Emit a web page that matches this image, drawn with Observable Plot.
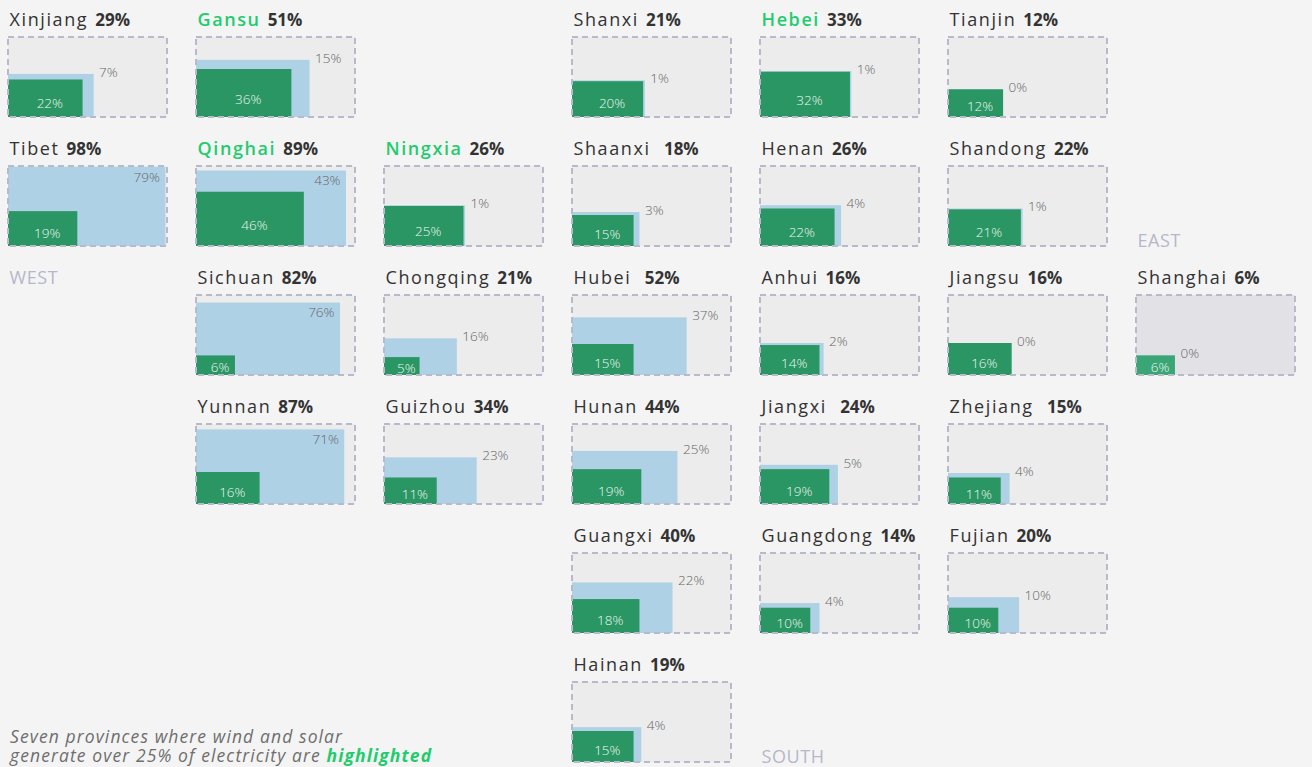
<!DOCTYPE html>
<html><head><meta charset="utf-8">
<script src="https://cdn.jsdelivr.net/npm/d3@7"></script>
<script src="https://cdn.jsdelivr.net/npm/@observablehq/plot@0.6"></script>
<style>
html,body{margin:0;padding:0;background:#f4f4f4;}
#wrap{position:relative;width:1312px;height:767px;overflow:hidden;}
.cap{position:absolute;left:10px;font-family:"Open Sans",sans-serif;font-style:italic;font-size:17.5px;line-height:18px;letter-spacing:1.1px;color:#6e6e6e;white-space:nowrap;}
.cap b{color:#22cc6e;font-weight:700;}
</style></head><body>
<div id="wrap"><div id="chart"></div>
<div class="cap" style="top:727px">Seven provinces where wind and solar</div>
<div class="cap" style="top:746px">generate over 25% of electricity are <b>highlighted</b></div></div>
<script>
const provinces = ["Xinjiang","Gansu","Shanxi","Hebei","Tianjin",
  "Tibet","Qinghai","Ningxia","Shaanxi ","Henan","Shandong",
  "Sichuan","Chongqing","Hubei ","Anhui","Jiangsu","Shanghai",
  "Yunnan","Guizhou","Hunan","Jiangxi ","Zhejiang ",
  "Guangxi","Guangdong","Fujian","Hainan"];
const gridCol = [0,1,3,4,5, 0,1,2,3,4,5, 1,2,3,4,5,6, 1,2,3,4,5, 3,4,5, 3];
const gridRow = [0,0,0,0,0, 1,1,1,1,1,1, 2,2,2,2,2,2, 3,3,3,3,3, 4,4,4, 5];
const totalShare = [29,51,21,33,12, 98,89,26,18,26,22, 82,21,52,16,16,6, 87,34,44,24,15, 40,14,20, 19];
const windSolarShare = [22,36,20,32,12, 19,46,25,15,22,21, 6,5,15,14,16,6, 16,11,19,19,11, 18,10,10, 15];
const otherShare = [7,15,1,1,0, 79,43,1,3,4,1, 76,16,37,2,0,0, 71,23,25,5,4, 22,4,10, 4];
const highlighted = ["Gansu","Hebei","Qinghai","Ningxia"];
const regionNames = ["WEST","EAST","SOUTH"];
const regionCol = [0,6,4];
const regionRow = [2,1,5];

const tiles = provinces.map((name, i) => ({
  name, col: gridCol[i], row: gridRow[i],
  total: totalShare[i], ws: windSolarShare[i], other: otherShare[i],
  hi: highlighted.includes(name.trim())
}));
const regions = regionNames.map((name, i) => ({name, col: regionCol[i], row: regionRow[i]}));
const sq = v => Math.sqrt(v / 100);
const F = "Open Sans";
const green = "#2a9663", blue = "#afd1e6";
const isShanghai = d => d.name.trim() === "Shanghai";

const chart = Plot.plot({
  width: 1312, height: 767,
  marginLeft: 8, marginRight: 17, marginTop: 3, marginBottom: 5,
  fx: {domain: d3.range(7), paddingInner: 29/188, paddingOuter: 0, round: false, axis: null},
  fy: {domain: d3.range(6), paddingInner: 15/129, paddingOuter: 0, round: false, axis: null},
  x: {domain: [0, 1], axis: null},
  y: {domain: [0, 114/80], axis: null},
  color: {type: "identity"},
  style: {fontFamily: F, background: "#f4f4f4"},
  marks: [
    Plot.rect(tiles, {fx: "col", fy: "row", x1: 0, x2: 1, y1: 0, y2: 1,
      fill: d => isShanghai(d) ? "#e2e1e6" : "#ececec"}),
    Plot.rect(tiles, {fx: "col", fy: "row", x1: 0, x2: d => sq(d.total), y1: 0, y2: d => sq(d.total), fill: blue}),
    Plot.rect(tiles, {fx: "col", fy: "row", x1: 0, x2: d => sq(d.ws), y1: 0, y2: d => sq(d.ws),
      fill: d => isShanghai(d) ? "#3aa676" : green}),
    Plot.rect(tiles, {fx: "col", fy: "row", x1: 0, x2: 1, y1: 0, y2: 1,
      fill: "none", stroke: "#b8b9ca", strokeWidth: 2, strokeDasharray: "6,4"}),
    Plot.text(tiles, {fx: "col", fy: "row", x: d => sq(d.ws) / 2, y: d => 0.38 * sq(d.ws),
      text: d => d.ws + "%", dx: 4, lineAnchor: "middle", fontSize: 13.5, fontWeight: 300, fill: "#eef7f1"}),
    Plot.text(tiles.filter(d => d.total < 70), {fx: "col", fy: "row", x: d => sq(d.total), y: d => sq(d.total),
      text: d => d.other + "%", dx: 5, dy: -2, textAnchor: "start", lineAnchor: "middle", fontSize: 13.5, fontWeight: 300, fill: "#666"}),
    Plot.text(tiles.filter(d => d.total >= 70), {fx: "col", fy: "row", x: d => sq(d.total), y: d => sq(d.total),
      text: d => d.other + "%", dx: -6, dy: 10, textAnchor: "end", lineAnchor: "middle", fontSize: 13.5, fontWeight: 300, fill: "#666"}),
    Plot.text(tiles.filter(d => !d.hi), {fx: "col", fy: "row", x: 0, y: 1, text: "name",
      dx: 1, dy: -11.5, textAnchor: "start", lineAnchor: "bottom", fontSize: 18, fill: "#333"}),
    Plot.text(tiles.filter(d => d.hi), {fx: "col", fy: "row", x: 0, y: 1, text: "name",
      dx: 1, dy: -11.5, textAnchor: "start", lineAnchor: "bottom", fontSize: 18, fontWeight: 600, fill: "#22cc6e"}),
    Plot.text(regions.filter(d => d.name === "WEST"), {fx: "col", fy: "row", x: 0, y: 1, text: "name",
      dx: 1, dy: -11.5, textAnchor: "start", lineAnchor: "bottom", fontSize: 18, fill: "#b6b7c9"}),
    Plot.text(regions.filter(d => d.name !== "WEST"), {fx: "col", fy: "row", x: 0, y: 0, text: "name",
      dx: 1, textAnchor: "start", lineAnchor: "bottom", fontSize: 18, fill: "#b6b7c9"})
  ]
});
document.getElementById("chart").append(chart);

// style province titles and append the bold total share after each name
const totalByName = new Map(tiles.map(d => [d.name, d.total]));
d3.select(chart).selectAll("text").each(function() {
  const t = this.textContent;
  if (totalByName.has(t)) {
    d3.select(this).attr("letter-spacing", "1.6px").style("white-space", "pre");
    d3.select(this).append("tspan").attr("dx", "7").attr("letter-spacing", "0")
      .attr("font-size", 17).attr("font-weight", 700).attr("fill", "#333")
      .text(totalByName.get(t) + "%");
  } else if (regionNames.includes(t)) {
    d3.select(this).attr("letter-spacing", "0.6px");
  }
});
</script></body></html>
